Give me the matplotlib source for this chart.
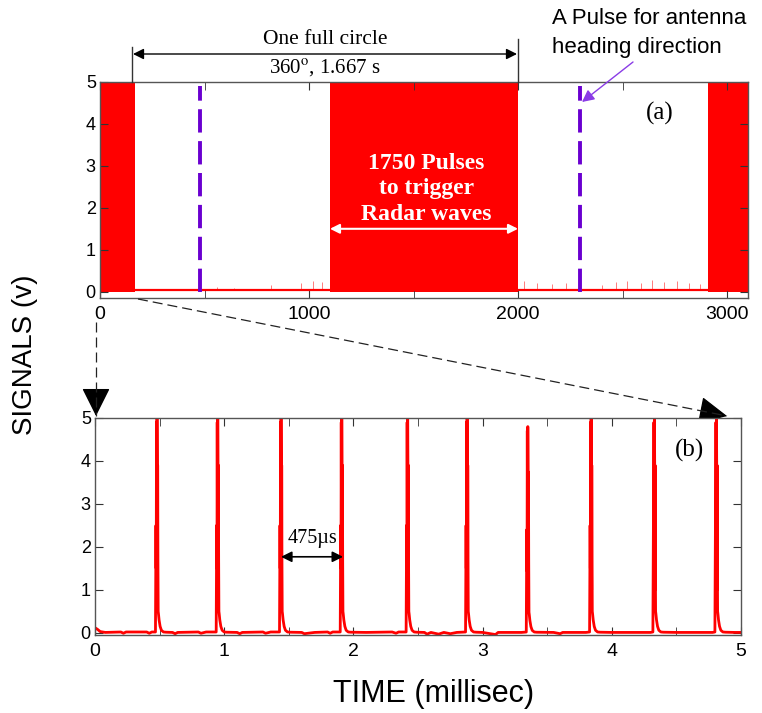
import matplotlib.pyplot as plt
import numpy as np

plt.rcParams['font.family'] = ['Liberation Sans', 'DejaVu Sans']
plt.rcParams['mathtext.fontset'] = 'stix'

# panel (a): bursts of trigger pulses (ms) and the heading pulses
burst_start = [0, 1100, 2910]
burst_end = [168, 2000, 3100]
heading_x = [478, 2297]
noise_x = [560, 640, 820, 960, 1020, 1060, 2030, 2090, 2160, 2230, 2400, 2470,
           2520, 2590, 2640, 2700, 2760, 2820, 2870]
noise_v = [0.12, 0.1, 0.15, 0.2, 0.25, 0.22, 0.25, 0.2, 0.18, 0.2, 0.15, 0.22,
           0.25, 0.2, 0.28, 0.22, 0.25, 0.2, 0.18]

# panel (b): individual pulses (ms)
pulse_t = [0.48, 0.95, 1.44, 1.91, 2.42, 2.88, 3.35, 3.84, 4.33, 4.81]
pulse_peak = [5.0, 5.0, 5.0, 5.0, 5.0, 5.0, 4.8, 5.0, 5.0, 5.0]
# one pulse: offset from peak (ms), fraction of peak
shape_dt = [-0.012, -0.008, -0.006, -0.004, -0.002, 0.000, 0.002, 0.004,
            0.005, 0.007, 0.009, 0.011, 0.016, 0.024, 0.034, 0.050, 0.070]
shape_frac = [0.004, 0.50, 0.30, 0.98, 0.40, 1.00, 0.78, 0.20,
              0.78, 0.34, 0.10, 0.09, 0.06, 0.03, 0.012, 0.004, 0.003]
# baseline between pulses
base_t = [0.00, 0.02, 0.04, 0.08, 0.20, 0.22, 0.24, 0.40, 0.42, 0.44,
          0.60, 0.62, 0.64, 0.80, 0.82, 0.86, 1.10, 1.12, 1.14, 1.30, 1.32, 1.36,
          1.60, 1.62, 1.70, 1.80, 1.82, 1.84, 2.10, 2.30, 2.33, 2.35,
          2.55, 2.57, 2.60, 2.66, 2.70, 2.75, 2.80, 3.00, 3.10, 3.12, 3.30,
          3.55, 3.60, 3.62, 3.80, 4.00, 4.30, 4.50, 4.78, 4.95, 5.00]
base_v = [0.12, 0.08, 0.03, 0.01, 0.02, -0.01, 0.02, 0.02, -0.01, 0.02,
          0.01, -0.02, 0.01, 0.02, -0.01, 0.02, 0.01, -0.02, 0.01, 0.02, -0.01, 0.02,
          0.01, -0.02, 0.01, 0.02, -0.01, 0.02, 0.01, 0.02, -0.01, 0.02,
          0.01, -0.03, 0.01, -0.03, 0.01, -0.02, 0.01, 0.01, -0.04, 0.01, 0.01,
          0.01, -0.02, 0.01, 0.01, 0.01, 0.01, 0.01, 0.01, 0.01, 0.01]

W, H = 762, 713


def fp(x, y):
    # reference pixel -> figure fraction
    return (x / W, 1 - y / H)


fig = plt.figure(figsize=(W / 100, H / 100), dpi=100)
ax_a = fig.add_axes([100 / W, 1 - 298 / H, 648 / W, 216 / H])
ax_b = fig.add_axes([95 / W, 1 - 635 / H, 646 / W, 217 / H])

red = '#ff0000'
purple = '#6a00d0'

# ---- panel (a)
ax_a.plot([0, 3100], [0.05, 0.05], color=red, lw=1.6)
ax_a.vlines(noise_x, 0.05, noise_v, color=red, lw=0.6, alpha=0.6)
for s, e in zip(burst_start, burst_end):
    ax_a.fill_between([s, e], 0.0, 5.0, color=red, lw=0)
for hx in heading_x:
    ax_a.plot([hx, hx], [0.0, 4.9], color=purple, lw=2.8, dashes=(6, 2.2))

ax_a.set_xlim(0, 3100)
ax_a.set_ylim(-0.15, 5)
ax_a.set_xticks([0, 1000, 2000, 3000])
ax_a.set_xticks([500, 1500, 2500], minor=True)
ax_a.set_yticks([0, 1, 2, 3, 4, 5])

ax_a.annotate('', xy=(1100, 1.5), xytext=(2000, 1.5),
              arrowprops=dict(arrowstyle='<|-|>', color='white', lw=1.5,
                              mutation_scale=14, shrinkA=0, shrinkB=0))
ax_a.text(1560, 2.45, '1750 Pulses\nto trigger\nRadar waves', color='white',
          fontsize=17, fontweight='bold', family='Liberation Serif',
          ha='center', va='center', linespacing=1.3)
ax_a.text(*fp(660, 113), '(a)', transform=fig.transFigure, fontsize=18,
          family='Liberation Serif', ha='center', va='center')

# ---- panel (b)
t_all = list(base_t)
v_all = list(base_v)
for p, pk in zip(pulse_t, pulse_peak):
    t_all += [p + d for d in shape_dt]
    v_all += [pk * f for f in shape_frac]
order = np.argsort(t_all)
ax_b.plot(np.array(t_all)[order], np.array(v_all)[order], color=red, lw=2)

ax_b.set_xlim(0, 5)
ax_b.set_ylim(-0.05, 5)
ax_b.set_xticks([0, 1, 2, 3, 4, 5])
ax_b.set_xticks([0.5, 1.5, 2.5, 3.5, 4.5], minor=True)
ax_b.set_yticks([0, 1, 2, 3, 4, 5])

ax_b.annotate('', xy=(1.44, 1.77), xytext=(1.92, 1.77),
              arrowprops=dict(arrowstyle='<|-|>', color='black', lw=1.2,
                              mutation_scale=16, shrinkA=0, shrinkB=0))
ax_b.text(1.68, 2.2, '475µs', fontsize=14.5, family='Liberation Serif',
          ha='center', va='center')
ax_b.text(*fp(690, 450), '(b)', transform=fig.transFigure, fontsize=18,
          family='Liberation Serif', ha='center', va='center')

# ---- shared styling
for ax in (ax_a, ax_b):
    for sp in ax.spines.values():
        sp.set_color('#555555')
        sp.set_linewidth(1.0)
    ax.tick_params(which='both', direction='in', top=True, right=True,
                   color='#333333', pad=6, length=6)
    ax.tick_params(axis='x', labelsize=14)
    ax.tick_params(axis='y', labelsize=13, pad=3)

fig.text(*fp(25, 355), 'SIGNALS (v)', rotation=90, fontsize=20,
         ha='center', va='center')
fig.text(*fp(434, 694), 'TIME (millisec)', fontsize=22,
         ha='center', va='center')

# ---- annotations above panel (a)
fig.text(*fp(325, 40), 'One full circle', fontsize=15.5,
         family='Liberation Serif', ha='center', va='center')
fig.text(*fp(325, 68), r'360$^{\mathrm{o}}$, 1.667 s', fontsize=15,
         family='Liberation Serif', ha='center', va='center')
fig.add_artist(plt.Line2D([fp(132, 0)[0]] * 2, [fp(0, 47)[1], fp(0, 82)[1]],
                          color='#333333', lw=1))
fig.add_artist(plt.Line2D([fp(518, 0)[0]] * 2, [fp(0, 39)[1], fp(0, 82)[1]],
                          color='#333333', lw=1))
ax_a.annotate('', xy=fp(133, 54), xytext=fp(517, 54),
              xycoords='figure fraction', textcoords='figure fraction',
              arrowprops=dict(arrowstyle='<|-|>', color='black', lw=1,
                              mutation_scale=16, shrinkA=0, shrinkB=0),
              annotation_clip=False)

fig.text(*fp(552, 19), 'A Pulse for antenna', fontsize=16,
         ha='left', va='center')
fig.text(*fp(552, 47), 'heading direction', fontsize=16,
         ha='left', va='center')
ax_a.annotate('', xy=fp(582, 102), xytext=fp(633, 62),
              xycoords='figure fraction', textcoords='figure fraction',
              arrowprops=dict(arrowstyle='-|>', color='#8a3ce6', lw=1,
                              mutation_scale=18, shrinkA=0, shrinkB=0),
              annotation_clip=False)


# ---- zoom connectors between panels: dashed shaft, solid head
def dashed_arrow(x0, y0, x1, y1):
    fig.add_artist(plt.Line2D([fp(x0, y0)[0], fp(x1, y1)[0]],
                              [fp(x0, y0)[1], fp(x1, y1)[1]],
                              color='#222222', lw=0.9, dashes=(8, 4)))
    k = 16 / np.hypot(x1 - x0, y1 - y0)
    hx, hy = x1 - (x1 - x0) * k, y1 - (y1 - y0) * k
    ax_a.annotate('', xy=fp(x1, y1), xytext=fp(hx, hy),
                  xycoords='figure fraction', textcoords='figure fraction',
                  arrowprops=dict(arrowstyle='-|>,head_length=0.9,head_width=0.45',
                                  color='black', lw=0.9, mutation_scale=20,
                                  shrinkA=0, shrinkB=0),
                  annotation_clip=False)


dashed_arrow(138, 299, 727, 416)
dashed_arrow(96, 322, 96, 416)

fig.savefig('out.png', dpi=100)
